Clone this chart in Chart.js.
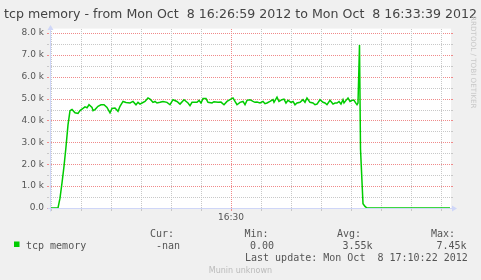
<!DOCTYPE html>
<html><head><meta charset="utf-8">
<script src="https://cdn.jsdelivr.net/npm/chart.js@4"></script>
<style>html,body{margin:0;padding:0;background:#f0f0f0;overflow:hidden}canvas{display:block}</style>
</head><body>
<canvas id="c" width="481" height="280"></canvas>
<script>
// ---- data ----
const titleText = 'tcp memory - from Mon Oct  8 16:26:59 2012 to Mon Oct  8 16:33:39 2012';
const seriesName = 'tcp memory';
// seconds after 16:26:59
const secondsFromStart = [0,8,10,12,14,16,18,20,22,25,28,30,33,35,37,39,42,43,45,48,51,54,57,60,62,65,68,70,73,76,80,83,86,88,90,92,95,98,100,103,105,107,110,113,117,120,123,127,130,134,138,140,142,147,149,151,153,156,158,162,164,168,171,174,177,180,183,185,187,190,193,195,197,200,203,205,207,210,213,215,217,220,223,224,227,229,232,234,236,238,241,243,245,247,250,253,255,257,260,263,265,267,270,273,275,277,280,283,285,287,289,291,293,294,296,298,300,302,304,306,307,308,309.5,310.5,313,315,317,400];
const tcpMemory = [0,0,450,1150,1900,2800,3800,4450,4500,4350,4320,4450,4550,4620,4580,4720,4600,4450,4500,4650,4720,4720,4600,4350,4550,4570,4420,4650,4870,4820,4800,4870,4720,4830,4750,4800,4870,5030,4980,4830,4870,4800,4830,4870,4830,4720,4950,4870,4750,4950,4800,4680,4830,4830,4920,4800,5000,5000,4830,4800,4860,4830,4840,4720,4870,4950,5030,4870,4720,4830,4870,4720,4920,4950,4870,4830,4840,4800,4870,4770,4800,4870,4950,4830,5070,4870,4950,4980,4800,4920,4830,4870,4720,4800,4830,4950,4830,5030,4830,4800,4720,4750,4950,4830,4800,4720,4920,4750,4800,4800,4870,4750,4950,4800,4920,5030,4870,4920,4920,4780,4720,4800,7450,2700,200,70,0,0];
const yTickValues = [0,500,1000,1500,2000,2500,3000,3500,4000,4500,5000,5500,6000,6500,7000,7500,8000];
const yTickLabels = {0:'0.0',1000:'1.0 k',2000:'2.0 k',3000:'3.0 k',4000:'4.0 k',5000:'5.0 k',6000:'6.0 k',7000:'7.0 k',8000:'8.0 k'};
const xTickSeconds = [1,31,61,91,121,151,181,211,241,271,301,331,361,391];
const xTickLabels = {181:'16:30'};
const legendHeaders = ['Cur:','Min:','Avg:','Max:'];
const legendValues = ['-nan','0.00','3.55k','7.45k'];
const lastUpdateText = 'Last update: Mon Oct  8 17:10:22 2012';
const bottomWatermark = 'Munin unknown';
const sideWatermark = 'RRDTOOL / TOBI OETIKER';

// ---- styles ----
const MAJOR = '#f08a8a', MINOR = '#c8c8c8', AXIS = '#CFD6F8', LINE = '#00cc00';
const TEXT = '#555555';

const bgPlugin = {
  id: 'bg',
  beforeDraw(chart) {
    const {ctx, chartArea: a} = chart;
    ctx.save();
    ctx.fillStyle = '#f0f0f0';
    ctx.fillRect(0, 0, chart.width, chart.height);
    ctx.fillStyle = '#ffffff';
    ctx.fillRect(a.left, a.top, a.right - a.left + 1, a.bottom - a.top);
    ctx.restore();
  },
  beforeDatasetsDraw(chart) {
    const {ctx, chartArea: a, scales} = chart;
    ctx.save();
    ctx.lineWidth = 1;
    const Li = Math.round(a.left) + 1, Ri = Math.round(a.right) + 1;
    const Ti = Math.round(a.top), Bi = Math.round(a.bottom);
    // horizontal grid (start on whole pixels so the dots stay crisp)
    yTickValues.forEach(v => {
      const y = Math.round(scales.y.getPixelForValue(v)) + 0.5;
      ctx.strokeStyle = (v % 1000 === 0) ? MAJOR : MINOR;
      ctx.setLineDash([1, 1]);
      ctx.beginPath(); ctx.moveTo(Li, y); ctx.lineTo(Ri, y); ctx.stroke();
      ctx.setLineDash([]);
      ctx.beginPath(); ctx.moveTo(Li - 4, y); ctx.lineTo(Li - 2, y); ctx.stroke();
      ctx.beginPath(); ctx.moveTo(Ri, y); ctx.lineTo(Ri + 2, y); ctx.stroke();
    });
    // vertical grid
    xTickSeconds.forEach(s => {
      const x = Math.round(scales.x.getPixelForValue(s)) + 0.5;
      ctx.strokeStyle = xTickLabels[s] ? MAJOR : MINOR;
      ctx.setLineDash([1, 1]);
      ctx.beginPath(); ctx.moveTo(x, Ti); ctx.lineTo(x, Bi); ctx.stroke();
      ctx.setLineDash([]);
      ctx.beginPath(); ctx.moveTo(x, Bi + 1); ctx.lineTo(x, Bi + 3); ctx.stroke();
    });
    ctx.restore();
  }
};

const decorPlugin = {
  id: 'decor',
  afterDatasetsDraw(chart) {
    const {ctx, chartArea: a, scales} = chart;
    ctx.save();
    const x0 = Math.round(scales.x.getPixelForValue(0)) + 0.5;
    const y0 = Math.round(scales.y.getPixelForValue(0)) + 0.5;
    ctx.strokeStyle = AXIS; ctx.fillStyle = AXIS; ctx.lineWidth = 1;
    ctx.beginPath(); ctx.moveTo(x0 - 3, y0); ctx.lineTo(a.right + 3, y0); ctx.stroke();
    ctx.beginPath(); ctx.moveTo(x0, y0 + 3); ctx.lineTo(x0, 28); ctx.stroke();
    ctx.beginPath(); ctx.moveTo(a.right + 2, y0 - 3); ctx.lineTo(a.right + 7, y0); ctx.lineTo(a.right + 2, y0 + 3); ctx.closePath(); ctx.fill();
    ctx.beginPath(); ctx.moveTo(x0 - 3, 30); ctx.lineTo(x0, 25); ctx.lineTo(x0 + 3, 30); ctx.closePath(); ctx.fill();
    ctx.restore();
  },
  afterDraw(chart) {
    const {ctx} = chart;
    ctx.save();
    // title
    ctx.fillStyle = '#444';
    ctx.font = '12.6px "DejaVu Sans"';
    ctx.textAlign = 'center'; ctx.textBaseline = 'alphabetic';
    ctx.fillText(titleText, 240.5, 18.3);
    // legend
    ctx.textAlign = 'left';
    ctx.font = '10px "DejaVu Sans Mono"';
    ctx.fillStyle = TEXT;
    const hx = [150, 244.5, 337, 431];
    const vx = [156, 250, 342.5, 436.5];
    legendHeaders.forEach((t, i) => ctx.fillText(t, hx[i], 237.3));
    legendValues.forEach((t, i) => ctx.fillText(t, vx[i], 249));
    ctx.fillText(seriesName, 26, 249);
    ctx.fillText(lastUpdateText, 245, 261);
    ctx.fillStyle = LINE;
    ctx.fillRect(14, 241.5, 5.5, 5.5);
    // watermarks
    ctx.fillStyle = '#bbbbbb';
    ctx.font = '8px "DejaVu Sans"';
    ctx.textAlign = 'center';
    ctx.fillText(bottomWatermark, 240.4, 272.7);
    ctx.fillStyle = '#c8c8c8';
    ctx.font = '7.2px "DejaVu Sans"';
    ctx.textAlign = 'left';
    ctx.translate(470.5, 16);
    ctx.rotate(Math.PI / 2);
    ctx.fillText(sideWatermark, 0, 0);
    ctx.restore();
  }
};

Chart.defaults.font.family = '"DejaVu Sans"';
new Chart(document.getElementById('c').getContext('2d'), {
  type: 'line',
  data: {
    datasets: [{
      label: seriesName,
      data: secondsFromStart.map((s, i) => ({x: s, y: tcpMemory[i]})),
      borderColor: LINE, borderWidth: 1.5, pointRadius: 0, tension: 0, fill: false
    }]
  },
  options: {
    responsive: false, animation: false, devicePixelRatio: 1,
    layout: {padding: {left: 0, right: 31, top: 28.6, bottom: 0}},
    plugins: {legend: {display: false}, title: {display: false}, tooltip: {enabled: false}},
    scales: {
      x: {
        type: 'linear', min: 0, max: 400,
        afterBuildTicks: s => { s.ticks = xTickSeconds.map(v => ({value: v})); },
        afterFit: s => { s.height = 72; },
        ticks: {autoSkip: false, maxRotation: 0, padding: 4, color: TEXT, font: {size: 9},
          callback: v => xTickLabels[v] || ''},
        grid: {display: false, drawTicks: false},
        border: {display: false}
      },
      y: {
        min: 0, max: 8200,
        afterBuildTicks: s => { s.ticks = yTickValues.map(v => ({value: v})); },
        afterFit: s => { s.width = 50; },
        ticks: {autoSkip: false, padding: 6, color: TEXT, font: {size: 9},
          callback: v => yTickLabels[v] || ''},
        grid: {display: false, drawTicks: false},
        border: {display: false}
      }
    }
  },
  plugins: [bgPlugin, decorPlugin]
});
</script>
</body></html>
